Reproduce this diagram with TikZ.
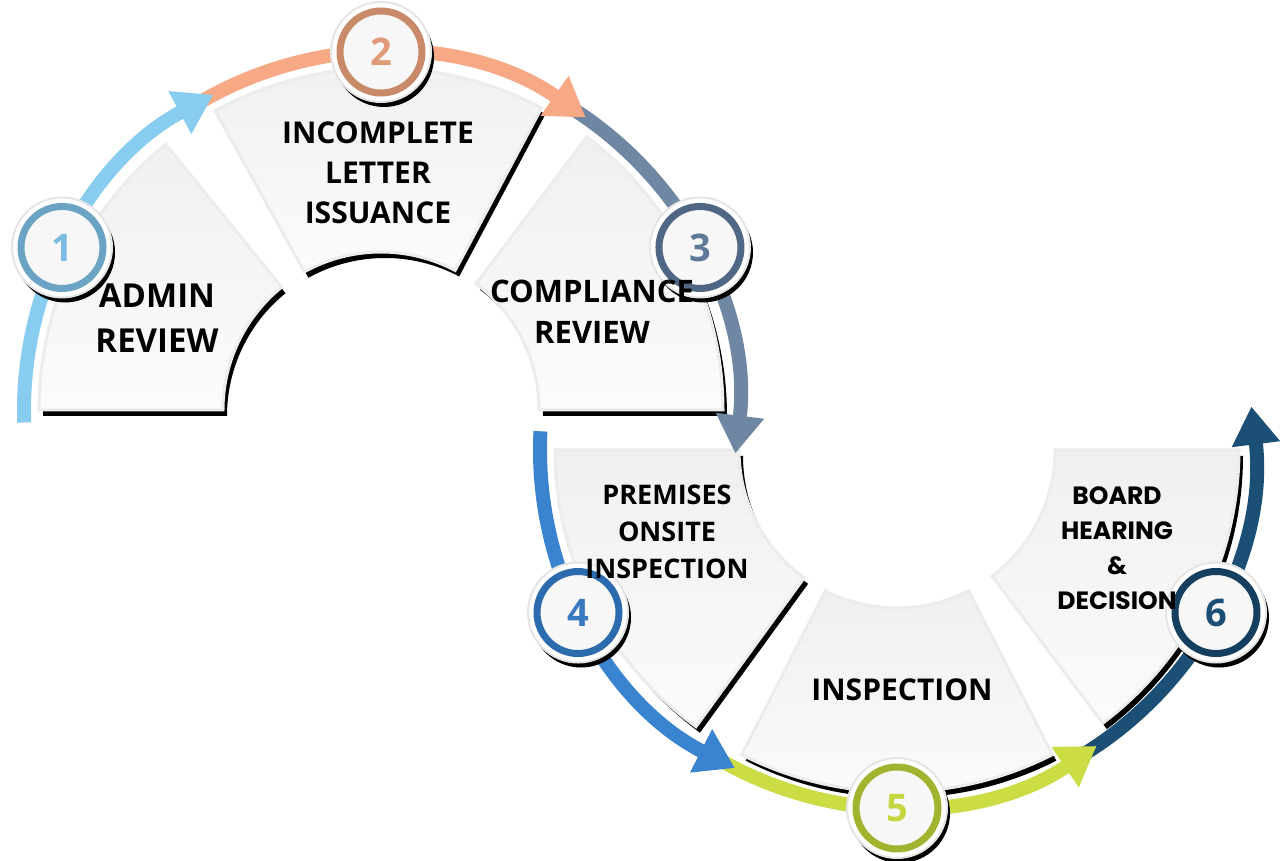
\documentclass[tikz,border=0pt]{standalone}
\usepackage{fontspec}
\setmainfont{Open Sans}
\newfontfamily\boardfont{Poppins}
\usetikzlibrary{arrows.meta,calc}

\definecolor{flow1}{HTML}{88CDEF}
\definecolor{flow2}{HTML}{F7A985}
\definecolor{flow3}{HTML}{6F87A3}
\definecolor{flow4}{HTML}{3A84CF}
\definecolor{flow5}{HTML}{CBDC45}
\definecolor{flow6}{HTML}{1B4F75}
\definecolor{ring1}{HTML}{6BA3C4}
\definecolor{ring2}{HTML}{C98A6A}
\definecolor{ring3}{HTML}{4F6784}
\definecolor{ring4}{HTML}{2C6CAE}
\definecolor{ring5}{HTML}{A2B330}
\definecolor{ring6}{HTML}{153F5F}
\definecolor{num1}{HTML}{7DBBE0}
\definecolor{num2}{HTML}{E09A78}
\definecolor{num3}{HTML}{5F7A98}
\definecolor{num4}{HTML}{3A78C0}
\definecolor{num5}{HTML}{C5D640}
\definecolor{num6}{HTML}{1B4F75}

\tikzset{
  segment/.style={draw=gray!15, line width=1.5pt, top color=gray!12, bottom color=gray!3},
  flowarrow/.style={line width=7pt, -{Triangle[width=23pt,length=19pt]}},
  numdisc/.style={circle, fill=white, draw=gray!20, line width=1pt, minimum size=50pt, inner sep=0pt},
  steptext/.style={font=\bfseries, align=center, text=black}
}

\begin{document}
\begin{tikzpicture}[x=0.5pt,y=0.5pt]
  \useasboundingbox[fill=white] (0,0) rectangle (1280,861);

  \coordinate (U) at (381,451);
  \coordinate (L) at (897,411);

  % segments with their shadow
  \foreach \c/\a/\b in {U/180/129, U/119/62, U/53/0, L/180/234, L/243/297, L/307/360} {
    \fill[black] ($(\c)+(\a:342)+(4,-6)$) arc[start angle=\a, end angle=\b, radius=171pt]
      -- ($(\c)+(\b:158)+(4,-6)$) arc[start angle=\b, end angle=\a, radius=79pt] -- cycle;
    \draw[segment] ($(\c)+(\a:342)$) arc[start angle=\a, end angle=\b, radius=171pt]
      -- ($(\c)+(\b:158)$) arc[start angle=\b, end angle=\a, radius=79pt] -- cycle;
  }

  % arrows, last one first
  \foreach \i/\c/\a/\b in {6/L/302/367, 5/L/240/304, 4/L/177/243, 3/U/58/-7, 2/U/121/55, 1/U/182/118}
    \draw[flowarrow, flow\i] ($(\c)+(\a:357)$) arc[start angle=\a, end angle=\b, radius=178.5pt];

  % number badges
  \foreach \i/\c/\a in {1/U/153, 2/U/90, 3/U/27, 4/L/207, 5/L/270, 6/L/333} {
    \fill[black] ($(\c)+(\a:358)+(3,-5)$) circle[radius=25pt];
    \node[numdisc] (n\i) at ($(\c)+(\a:358)$) {};
    \draw[ring\i, line width=3.5pt, fill=gray!6] (n\i) circle[radius=20.5pt];
    \node[font=\fontsize{19}{19}\selectfont\bfseries, text=num\i] at (n\i) {\i};
  }

  \node[steptext, font=\fontsize{16.5}{22.5}\selectfont\bfseries] (t1) at (157,543) {ADMIN\\REVIEW};
  \node[steptext, font=\fontsize{15}{20}\selectfont\bfseries] (t2) at (378,688) {INCOMPLETE\\LETTER\\ISSUANCE};
  \node[steptext, font=\fontsize{15.5}{20.5}\selectfont\bfseries] (t3) at (592,549) {COMPLIANCE\\REVIEW};
  \node[steptext, font=\fontsize{13.5}{18.5}\selectfont\bfseries] (t4) at (667,329) {PREMISES\\ONSITE\\INSPECTION};
  \node[steptext, font=\fontsize{15}{20}\selectfont\bfseries] (t5) at (902,171) {INSPECTION};
  \node[steptext, font=\boardfont\fontsize{12.5}{17.5}\selectfont\bfseries] (t6) at (1117,313) {BOARD\\HEARING\\\&\\DECISION};
\end{tikzpicture}
\end{document}
